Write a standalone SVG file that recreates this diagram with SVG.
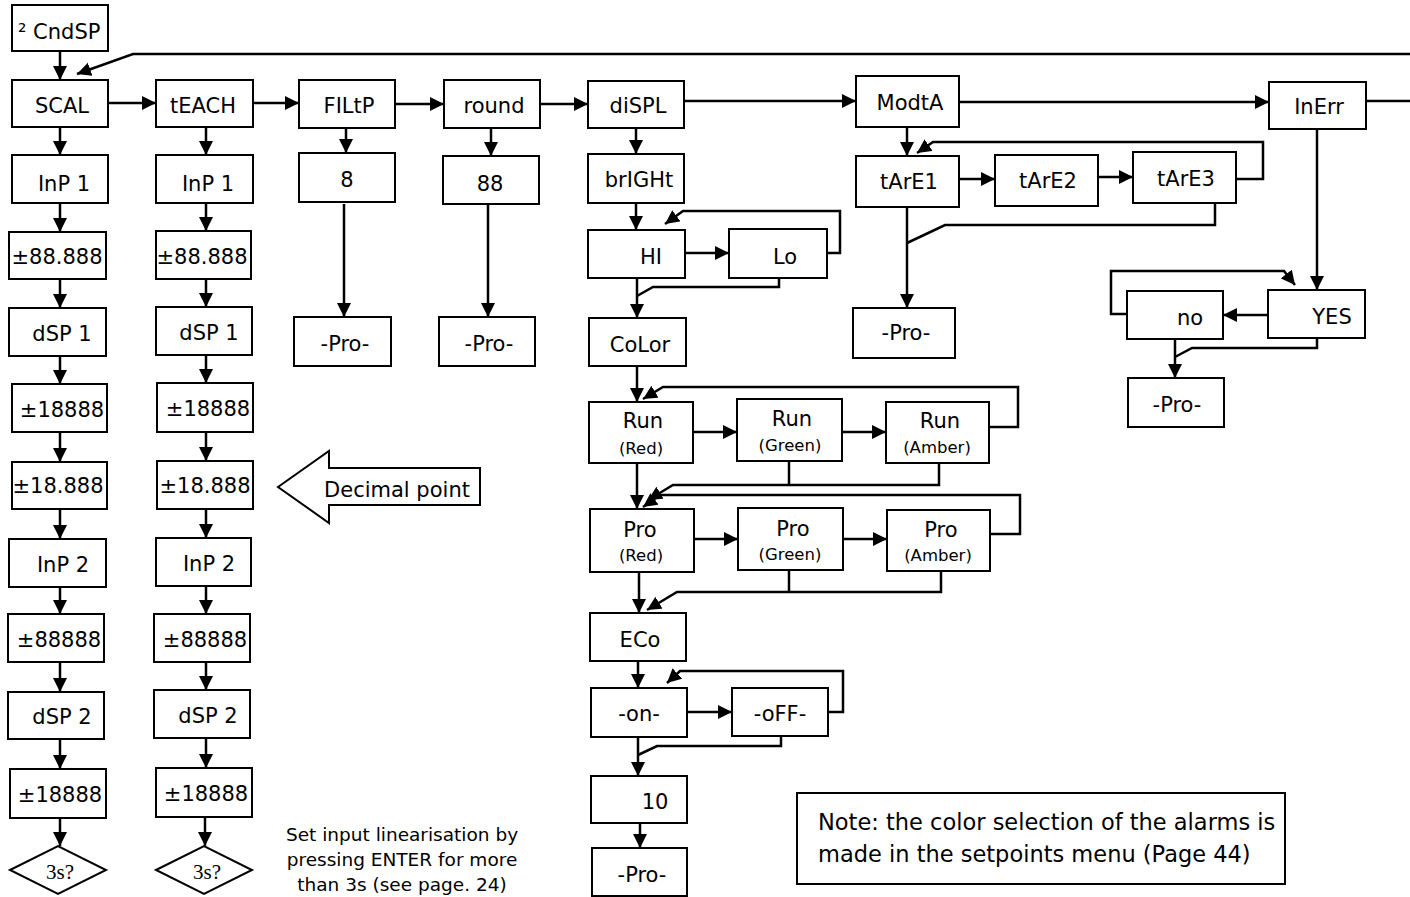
<svg xmlns="http://www.w3.org/2000/svg" width="1410" height="897" viewBox="0 0 1410 897">
<style>
.b{fill:#fff;stroke:#000;stroke-width:2}
.t{font-family:"DejaVu Sans",Verdana,sans-serif;font-size:21px;text-anchor:middle;fill:#000}
.s{font-family:"DejaVu Sans",Verdana,sans-serif;font-size:16.5px;text-anchor:middle;fill:#000}
.n{font-family:"DejaVu Sans",Verdana,sans-serif;font-size:22.5px;fill:#000}
.m{font-family:"DejaVu Sans",Verdana,sans-serif;font-size:18.5px;text-anchor:middle;fill:#000}
.r{font-family:"Liberation Serif","Times New Roman",serif;font-size:21px;text-anchor:middle;fill:#000}
.c path{fill:none;stroke:#000;stroke-width:2.5}
.c .a{marker-end:url(#ah)}
</style>
<defs>
<marker id="ah" markerUnits="userSpaceOnUse" markerWidth="15" markerHeight="15" refX="14" refY="7" orient="auto" viewBox="0 0 15 15">
<path d="M0,0 L14,7 L0,14 z" fill="#000"/>
</marker>
</defs>
<rect width="1410" height="897" fill="#fff"/>

<g id="connectors" class="c">
<path class="a" d="M60,51 V80"/>
<path class="a" d="M1410,54 H133 L77,74"/>
<path class="a" d="M108,103 H156"/>
<path class="a" d="M253,103 H299"/>
<path class="a" d="M395,104 H444"/>
<path class="a" d="M540,104 H588"/>
<path class="a" d="M684,101 H856"/>
<path class="a" d="M959,102 H1269"/>
<path d="M1366,101 H1410"/>
<path class="a" d="M60,127 V155"/>
<path class="a" d="M60,203 V232"/>
<path class="a" d="M60,279 V308"/>
<path class="a" d="M60,356 V384"/>
<path class="a" d="M60,432 V462"/>
<path class="a" d="M60,509 V539"/>
<path class="a" d="M60,587 V614"/>
<path class="a" d="M60,662 V692"/>
<path class="a" d="M60,739 V769"/>
<path class="a" d="M60,818 V846"/>
<path class="a" d="M206,127 V155"/>
<path class="a" d="M206,203 V231"/>
<path class="a" d="M206,279 V307"/>
<path class="a" d="M206,355 V383"/>
<path class="a" d="M206,432 V461"/>
<path class="a" d="M206,509 V538"/>
<path class="a" d="M206,586 V614"/>
<path class="a" d="M206,662 V690"/>
<path class="a" d="M206,738 V768"/>
<path class="a" d="M205,817 V846"/>
<path class="a" d="M346,128 V153"/>
<path class="a" d="M344,204 V317"/>
<path class="a" d="M491,128 V156"/>
<path class="a" d="M488,204 V317"/>
<path class="a" d="M636,128 V154"/>
<path class="a" d="M636,203 V230"/>
<path class="a" d="M685,253 H729"/>
<path class="a" d="M827,253 H840 V211 H683 L665,224"/>
<path d="M779,278 V287 H653 L637,296"/>
<path class="a" d="M637,278 V318"/>
<path class="a" d="M637,366 V402"/>
<path class="a" d="M693,432 H737"/>
<path class="a" d="M842,432 H886"/>
<path class="a" d="M989,427 H1018 V387 H663 L643,399"/>
<path class="a" d="M939,463 V485 H673 L648,500"/>
<path d="M789,461 V485"/>
<path class="a" d="M637,463 V509"/>
<path class="a" d="M694,539 H738"/>
<path class="a" d="M843,539 H887"/>
<path class="a" d="M990,534 H1020 V495 H660 L643,507"/>
<path class="a" d="M941,571 V592 H677 L647,610"/>
<path d="M789,570 V592"/>
<path class="a" d="M639,572 V613"/>
<path class="a" d="M638,661 V688"/>
<path class="a" d="M687,712 H732"/>
<path class="a" d="M828,712 H843 V671 H680 L667,683"/>
<path d="M781,736 V746 H657 L638,755"/>
<path class="a" d="M638,737 V776"/>
<path class="a" d="M640,823 V848"/>
<path class="a" d="M907,127 V156"/>
<path class="a" d="M959,179 H995"/>
<path class="a" d="M1098,177 H1133"/>
<path class="a" d="M1236,179 H1263 V142 H933 L917,153"/>
<path d="M1215,203 V225 H945 L907,243"/>
<path class="a" d="M907,207 V308"/>
<path class="a" d="M1317,129 V290"/>
<path class="a" d="M1268,315 H1223"/>
<path class="a" d="M1127,314 H1111 V271 H1284 L1295,285"/>
<path d="M1317,338 V348 H1192 L1175,357"/>
<path class="a" d="M1175,339 V378"/>
</g>

<g id="n-cndsp"><rect class="b" x="12" y="5" width="96" height="46"/><text class="t" x="18" y="39" style="text-anchor:start">² CndSP</text></g>
<g id="n-scal"><rect class="b" x="12" y="80" width="96" height="47"/><text class="t" x="62" y="113">SCAL</text></g>
<g id="n-teach"><rect class="b" x="156" y="80" width="97" height="47"/><text class="t" x="203" y="113">tEACH</text></g>
<g id="n-filtp"><rect class="b" x="299" y="80" width="96" height="48"/><text class="t" x="349" y="113">FILtP</text></g>
<g id="n-round"><rect class="b" x="444" y="80" width="96" height="48"/><text class="t" x="494" y="113">round</text></g>
<g id="n-displ"><rect class="b" x="588" y="81" width="96" height="47"/><text class="t" x="638" y="113">diSPL</text></g>
<g id="n-modta"><rect class="b" x="856" y="76" width="103" height="51"/><text class="t" x="910" y="110">ModtA</text></g>
<g id="n-inerr"><rect class="b" x="1269" y="82" width="97" height="47"/><text class="t" x="1319" y="114">InErr</text></g>

<g id="n-c1-inp1"><rect class="b" x="12" y="155" width="96" height="48"/><text class="t" x="64" y="191">InP 1</text></g>
<g id="n-c1-v1"><rect class="b" x="9" y="232" width="97" height="47"/><text class="t" x="57" y="264">±88.888</text></g>
<g id="n-c1-dsp1"><rect class="b" x="9" y="308" width="97" height="48"/><text class="t" x="62" y="341">dSP 1</text></g>
<g id="n-c1-v2"><rect class="b" x="12" y="384" width="95" height="48"/><text class="t" x="62" y="417">±18888</text></g>
<g id="n-c1-v3"><rect class="b" x="12" y="462" width="95" height="47"/><text class="t" x="58" y="493">±18.888</text></g>
<g id="n-c1-inp2"><rect class="b" x="9" y="539" width="97" height="48"/><text class="t" x="63" y="572">InP 2</text></g>
<g id="n-c1-v4"><rect class="b" x="8" y="614" width="96" height="48"/><text class="t" x="59" y="647">±88888</text></g>
<g id="n-c1-dsp2"><rect class="b" x="8" y="692" width="96" height="47"/><text class="t" x="62" y="724">dSP 2</text></g>
<g id="n-c1-v5"><rect class="b" x="10" y="769" width="96" height="49"/><text class="t" x="60" y="802">±18888</text></g>
<g id="n-c1-3s"><polygon class="b" points="10,870 58,846 106,870 58,894"/><text class="r" x="60" y="879">3s?</text></g>

<g id="n-c2-inp1"><rect class="b" x="156" y="155" width="97" height="48"/><text class="t" x="208" y="191">InP 1</text></g>
<g id="n-c2-v1"><rect class="b" x="156" y="231" width="95" height="48"/><text class="t" x="202" y="264">±88.888</text></g>
<g id="n-c2-dsp1"><rect class="b" x="156" y="307" width="96" height="48"/><text class="t" x="209" y="340">dSP 1</text></g>
<g id="n-c2-v2"><rect class="b" x="157" y="383" width="96" height="49"/><text class="t" x="208" y="416">±18888</text></g>
<g id="n-c2-v3"><rect class="b" x="157" y="461" width="96" height="48"/><text class="t" x="205" y="493">±18.888</text></g>
<g id="n-c2-inp2"><rect class="b" x="156" y="538" width="95" height="48"/><text class="t" x="209" y="571">InP 2</text></g>
<g id="n-c2-v4"><rect class="b" x="154" y="614" width="96" height="48"/><text class="t" x="205" y="647">±88888</text></g>
<g id="n-c2-dsp2"><rect class="b" x="154" y="690" width="96" height="48"/><text class="t" x="208" y="723">dSP 2</text></g>
<g id="n-c2-v5"><rect class="b" x="156" y="768" width="96" height="49"/><text class="t" x="206" y="801">±18888</text></g>
<g id="n-c2-3s"><polygon class="b" points="156,870 204,846 252,870 204,894"/><text class="r" x="207" y="879">3s?</text></g>

<g id="n-filt-8"><rect class="b" x="299" y="153" width="96" height="49"/><text class="t" x="347" y="187">8</text></g>
<g id="n-filt-pro"><rect class="b" x="294" y="317" width="97" height="49"/><text class="t" x="345" y="351">-Pro-</text></g>
<g id="n-round-88"><rect class="b" x="443" y="156" width="96" height="48"/><text class="t" x="490" y="191">88</text></g>
<g id="n-round-pro"><rect class="b" x="439" y="317" width="96" height="49"/><text class="t" x="489" y="351">-Pro-</text></g>

<g id="n-bright"><rect class="b" x="588" y="154" width="96" height="49"/><text class="t" x="639" y="187">brIGHt</text></g>
<g id="n-hi"><rect class="b" x="588" y="230" width="97" height="48"/><text class="t" x="651" y="264">HI</text></g>
<g id="n-lo"><rect class="b" x="729" y="229" width="98" height="49"/><text class="t" x="785" y="264">Lo</text></g>
<g id="n-color"><rect class="b" x="589" y="318" width="97" height="48"/><text class="t" x="640" y="352">CoLor</text></g>
<g id="n-run-red"><rect class="b" x="589" y="402" width="104" height="61"/><text class="t" x="643" y="428">Run</text><text class="s" x="641" y="454">(Red)</text></g>
<g id="n-run-green"><rect class="b" x="737" y="399" width="105" height="62"/><text class="t" x="792" y="426">Run</text><text class="s" x="790" y="451">(Green)</text></g>
<g id="n-run-amber"><rect class="b" x="886" y="402" width="103" height="61"/><text class="t" x="940" y="428">Run</text><text class="s" x="937" y="453">(Amber)</text></g>
<g id="n-pro-red"><rect class="b" x="590" y="509" width="104" height="63"/><text class="t" x="640" y="537">Pro</text><text class="s" x="641" y="561">(Red)</text></g>
<g id="n-pro-green"><rect class="b" x="738" y="508" width="105" height="62"/><text class="t" x="793" y="536">Pro</text><text class="s" x="790" y="560">(Green)</text></g>
<g id="n-pro-amber"><rect class="b" x="887" y="510" width="103" height="61"/><text class="t" x="941" y="537">Pro</text><text class="s" x="938" y="561">(Amber)</text></g>
<g id="n-eco"><rect class="b" x="590" y="613" width="96" height="48"/><text class="t" x="640" y="647">ECo</text></g>
<g id="n-on"><rect class="b" x="591" y="688" width="96" height="49"/><text class="t" x="639" y="721">-on-</text></g>
<g id="n-off"><rect class="b" x="732" y="688" width="96" height="48"/><text class="t" x="780" y="721">-oFF-</text></g>
<g id="n-10"><rect class="b" x="591" y="776" width="96" height="47"/><text class="t" x="655" y="809">10</text></g>
<g id="n-eco-pro"><rect class="b" x="592" y="848" width="95" height="48"/><text class="t" x="642" y="882">-Pro-</text></g>

<g id="n-tare1"><rect class="b" x="856" y="156" width="103" height="51"/><text class="t" x="909" y="189">tArE1</text></g>
<g id="n-tare2"><rect class="b" x="995" y="155" width="103" height="51"/><text class="t" x="1048" y="188">tArE2</text></g>
<g id="n-tare3"><rect class="b" x="1133" y="152" width="103" height="51"/><text class="t" x="1186" y="186">tArE3</text></g>
<g id="n-modta-pro"><rect class="b" x="853" y="308" width="102" height="50"/><text class="t" x="906" y="340">-Pro-</text></g>
<g id="n-yes"><rect class="b" x="1268" y="290" width="97" height="48"/><text class="t" x="1332" y="324">YES</text></g>
<g id="n-no"><rect class="b" x="1127" y="291" width="96" height="48"/><text class="t" x="1190" y="325">no</text></g>
<g id="n-inerr-pro"><rect class="b" x="1128" y="378" width="96" height="49"/><text class="t" x="1177" y="412">-Pro-</text></g>

<g id="n-decimal"><polygon class="b" points="278,487 329,451 329,468 480,468 480,505 329,505 329,523"/><text class="t" x="397" y="497">Decimal point</text></g>
<g id="n-linear"><text class="m" x="402" y="841">Set input linearisation by</text><text class="m" x="402" y="866">pressing ENTER for more</text><text class="m" x="402" y="891">than 3s (see page. 24)</text></g>
<g id="n-note"><rect class="b" x="797" y="793" width="488" height="91"/><text class="n" x="818" y="830">Note: the color selection of the alarms is</text><text class="n" x="818" y="862">made in the setpoints menu (Page 44)</text></g>
</svg>
